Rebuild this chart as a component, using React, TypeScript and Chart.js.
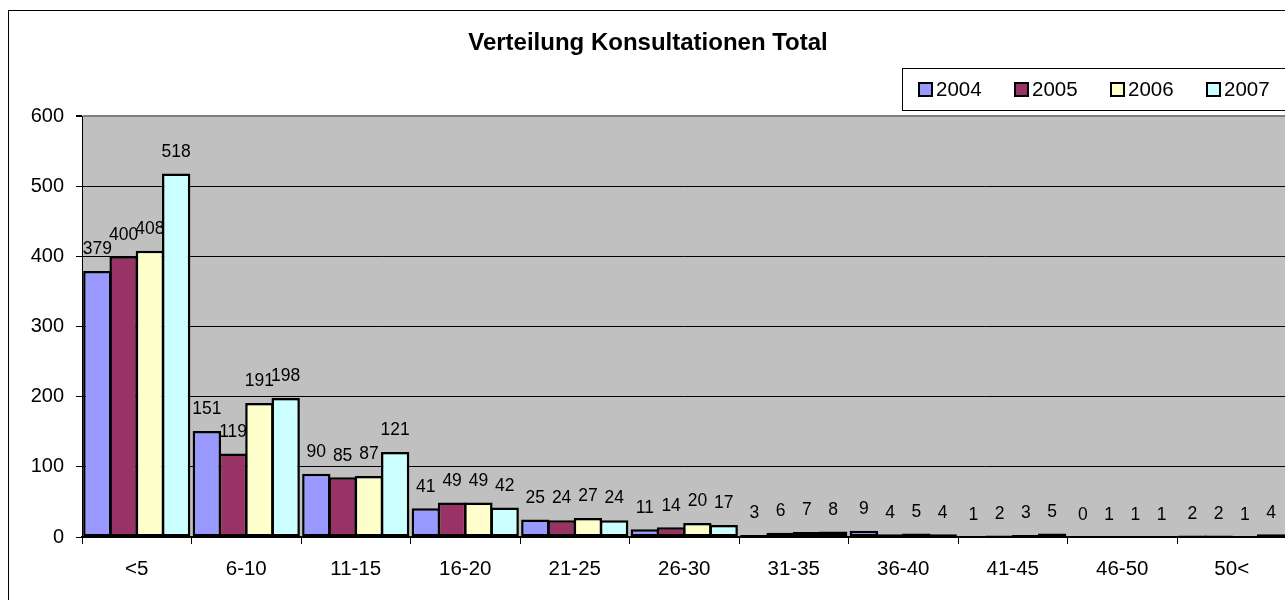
import React, { useEffect, useRef } from "react";
import { Chart, registerables } from "chart.js";

Chart.register(...registerables);

const chartTitle = "Verteilung Konsultationen Total";
const categories = ["<5", "6-10", "11-15", "16-20", "21-25", "26-30", "31-35", "36-40", "41-45", "46-50", "50<"];
const years = ["2004", "2005", "2006", "2007"];
const values2004 = [379, 151, 90, 41, 25, 11, 3, 9, 1, 0, 2];
const values2005 = [400, 119, 85, 49, 24, 14, 6, 4, 2, 1, 2];
const values2006 = [408, 191, 87, 49, 27, 20, 7, 5, 3, 1, 1];
const values2007 = [518, 198, 121, 42, 24, 17, 8, 4, 5, 1, 4];
const yTicks = [0, 100, 200, 300, 400, 500, 600];
const seriesColors = ["#9999FF", "#993366", "#FFFFCC", "#CCFFFF"];

const FONT = "'Liberation Sans', Arial, Helvetica, sans-serif";

const plotBackground = {
  id: "plotBackground",
  beforeDraw(chart: any) {
    const { ctx, chartArea } = chart;
    ctx.save();
    ctx.fillStyle = "#C0C0C0";
    ctx.fillRect(chartArea.left, chartArea.top, chartArea.right - chartArea.left, chartArea.bottom - chartArea.top);
    ctx.restore();
  },
};

const valueLabels = {
  id: "valueLabels",
  afterDatasetsDraw(chart: any) {
    const { ctx } = chart;
    ctx.save();
    ctx.font = `17.5px ${FONT}`;
    ctx.fillStyle = "#000";
    ctx.textAlign = "center";
    ctx.textBaseline = "middle";
    chart.data.datasets.forEach((ds: any, di: number) => {
      const meta = chart.getDatasetMeta(di);
      meta.data.forEach((el: any, i: number) => {
        ctx.fillText(String(ds.data[i]), el.x, el.y - 21.5);
      });
    });
    ctx.restore();
  },
};

const titleAndLegend = {
  id: "titleAndLegend",
  afterDraw(chart: any) {
    const { ctx } = chart;
    ctx.save();
    // title
    ctx.font = `bold 24px ${FONT}`;
    ctx.fillStyle = "#000";
    ctx.textAlign = "center";
    ctx.textBaseline = "middle";
    ctx.fillText(chartTitle, 639, 32.5);
    // legend box
    ctx.fillStyle = "#FFFFFF";
    ctx.fillRect(893.5, 57.5, 420, 42);
    ctx.strokeStyle = "#000";
    ctx.lineWidth = 1;
    ctx.strokeRect(893.5, 57.5, 420, 42);
    ctx.font = `20.5px ${FONT}`;
    ctx.textAlign = "left";
    chart.data.datasets.forEach((ds: any, i: number) => {
      const x = 910 + 96 * i;
      const y = 72;
      ctx.fillStyle = ds.backgroundColor;
      ctx.fillRect(x, y, 13, 13);
      ctx.lineWidth = 2;
      ctx.strokeStyle = "#000";
      ctx.strokeRect(x, y, 13, 13);
      ctx.fillStyle = "#000";
      ctx.fillText(ds.label, x + 17, 79.5);
    });
    ctx.restore();
  },
};

export default function App() {
  const canvasRef = useRef<HTMLCanvasElement | null>(null);

  useEffect(() => {
    if (!canvasRef.current) return;
    const seriesValues = [values2004, values2005, values2006, values2007];
    const chart = new Chart(canvasRef.current, {
      type: "bar",
      data: {
        labels: categories,
        datasets: years.map((y, i) => ({
          label: y,
          data: seriesValues[i],
          backgroundColor: seriesColors[i],
          borderColor: "#000",
          borderWidth: 2.5,
          borderSkipped: false,
          categoryPercentage: 0.96,
          barPercentage: 1.08,
        })),
      },
      options: {
        responsive: false,
        animation: false,
        events: [],
        layout: { padding: { left: 0, right: 22.5, top: 105, bottom: 0 } },
        plugins: {
          legend: { display: false },
          title: { display: false },
          tooltip: { enabled: false },
        },
        scales: {
          x: {
            type: "category",
            offset: true,
            afterFit: (s: any) => {
              s.height = 74;
            },
            grid: {
              offset: true,
              drawOnChartArea: false,
              drawTicks: true,
              tickLength: 7,
              color: "#000",
              tickColor: "#000",
            },
            border: { display: true, color: "#000", width: 1.5 },
            ticks: {
              color: "#000",
              font: { family: FONT, size: 20.5 },
              padding: 13,
              maxRotation: 0,
              autoSkip: false,
            },
          },
          y: {
            min: 0,
            max: 600,
            afterFit: (s: any) => {
              s.width = 73;
            },
            afterBuildTicks: (s: any) => {
              s.ticks = yTicks.map((v) => ({ value: v }));
            },
            grid: {
              color: (c: any) => (c.tick && c.tick.value === 600 ? "#808080" : "#000"),
              lineWidth: (c: any) => (c.tick && c.tick.value === 600 ? 2 : 1),
              tickColor: "#000",
              tickLength: 6,
              drawTicks: true,
            },
            border: { display: true, color: "#000", width: 1 },
            ticks: {
              color: "#000",
              font: { family: FONT, size: 20 },
              padding: 12,
            },
          },
        },
      },
      plugins: [plotBackground, valueLabels, titleAndLegend],
    });
    return () => chart.destroy();
  }, []);

  return (
    <div
      style={{
        position: "fixed",
        left: 0,
        top: 0,
        width: 1285,
        height: 600,
        overflow: "hidden",
        background: "#fff",
      }}
    >
      <div
        style={{
          position: "absolute",
          left: 8,
          top: 10,
          border: "1px solid #000",
          background: "#fff",
        }}
      >
        <canvas ref={canvasRef} width={1300} height={600} style={{ display: "block" }} />
      </div>
    </div>
  );
}
